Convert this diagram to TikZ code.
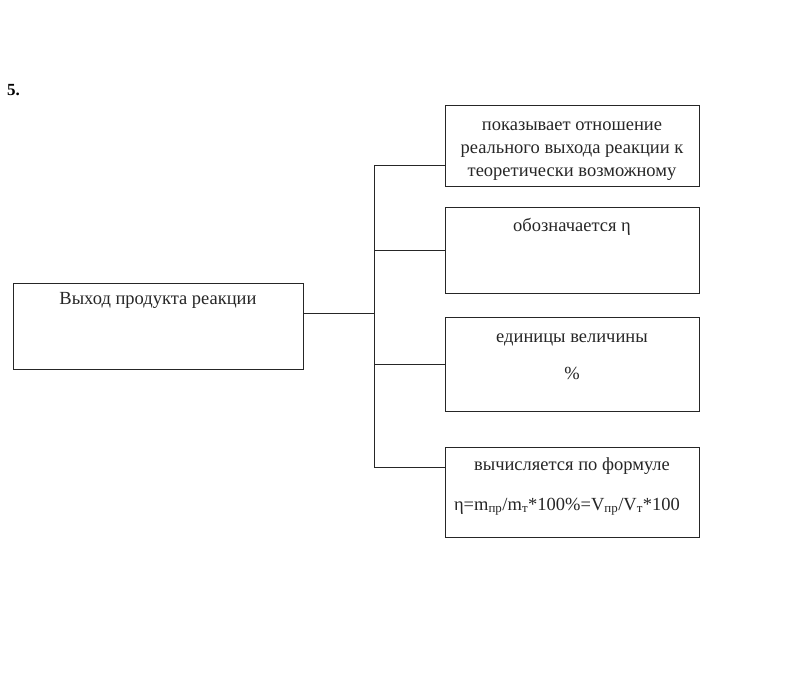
\documentclass[tikz,border=0pt]{standalone}
\usepackage{fontspec}
\setmainfont{Liberation Serif}
\begin{document}
\begin{tikzpicture}[x=1pt,y=-1pt,
  box/.style={draw=black!85,line width=0.9pt,rectangle,inner sep=0pt,anchor=north west},
  txt/.style={font=\fontsize{18.5}{23}\selectfont,anchor=base,inner sep=0pt,text=black!85},
  conn/.style={draw=black!85,line width=0.9pt}]
\useasboundingbox (0,0) rectangle (812,676);
\node[font=\bfseries\fontsize{17}{18}\selectfont,anchor=base west,inner sep=0pt] (num) at (7,96) {5.};
\node[box,minimum width=290pt,minimum height=86pt] (main) at (13,283) {};
\node[txt] (maint) at (158,305) {Выход продукта реакции};
\node[box,minimum width=254pt,minimum height=81pt] (b1) at (445,105) {};
\node[txt] (b1a) at (572,131) {показывает отношение};
\node[txt] (b1b) at (572,154) {реального выхода реакции к};
\node[txt] (b1c) at (572,177) {теоретически возможному};
\node[box,minimum width=254pt,minimum height=86pt] (b2) at (445,207) {};
\node[txt] (b2t) at (572,232) {обозначается η};
\node[box,minimum width=254pt,minimum height=94pt] (b3) at (445,317) {};
\node[txt] (b3a) at (572,343) {единицы величины};
\node[txt] (b3b) at (572,380) {\%};
\node[box,minimum width=254pt,minimum height=90pt] (b4) at (445,447) {};
\node[txt] (b4a) at (572,471) {вычисляется по формуле};
\node[txt] (b4b) at (567,510) {η=m\textsubscript{пр}/m\textsubscript{т}*100\%=V\textsubscript{пр}/V\textsubscript{т}*100};
\coordinate (trTop) at (374,165);
\coordinate (trBot) at (374,467);
\coordinate (trMid) at (374,313);
\draw[conn] (trTop) -- (trBot);
\draw[conn] (main.east |- trMid) -- (trMid);
\draw[conn] (trTop) -- (b1.west |- trTop);
\draw[conn] (374,250) -- (b2.west |- 0,250);
\draw[conn] (374,364) -- (b3.west |- 0,364);
\draw[conn] (trBot) -- (b4.west |- trBot);
\end{tikzpicture}
\end{document}
